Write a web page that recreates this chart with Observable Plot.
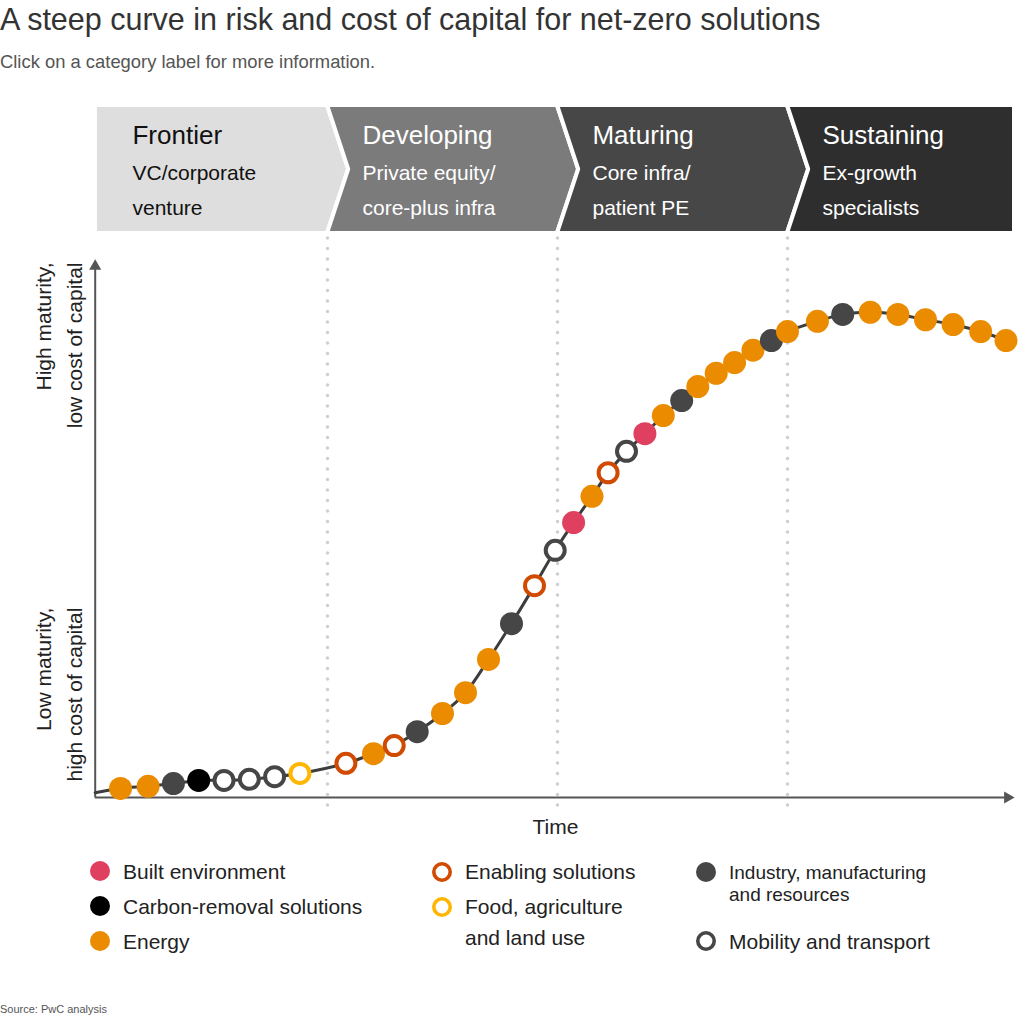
<!DOCTYPE html>
<html><head><meta charset="utf-8">
<script src="https://cdn.jsdelivr.net/npm/d3@7"></script>
<script src="https://cdn.jsdelivr.net/npm/@observablehq/plot@0.6"></script>
<style>
body{margin:0;background:#fff;font-family:"Liberation Sans",Arial,Helvetica,sans-serif;}
#page{position:relative;width:1020px;height:1017px;overflow:hidden;}
.abs{position:absolute;white-space:nowrap;}
svg{font-family:"Liberation Sans",Arial,Helvetica,sans-serif;}
</style></head><body><div id="page">
<div class="abs" style="left:0;top:4px;font-size:30.5px;line-height:30.5px;color:#333">A steep curve in risk and cost of capital for net-zero solutions</div>
<div class="abs" style="left:0;top:52.5px;font-size:18.4px;line-height:18.4px;color:#555">Click on a category label for more information.</div>
<div class="abs" id="header" style="left:0;top:100px"></div>
<div class="abs" id="chart" style="left:0;top:232px"></div>
<div id="legend"></div>
<div class="abs" style="left:0;top:1004px;font-size:11px;line-height:11px;color:#555">Source: PwC analysis</div>
</div>
<script>
// ---- data ----
const stages = ["Frontier", "Developing", "Maturing", "Sustaining"];
const stageInvestors = ["VC/corporate\nventure", "Private equity/\ncore-plus infra", "Core infra/\npatient PE", "Ex-growth\nspecialists"];
const stageColors = ["#dedede", "#7b7b7b", "#474747", "#2e2e2e"];
const stageTextColors = ["#111111", "#ffffff", "#ffffff", "#ffffff"];

const categoryKeys = ["built", "carbon", "energy", "enabling", "food", "industry", "mobility"];
const categoryLabels = ["Built environment", "Carbon-removal solutions", "Energy", "Enabling solutions", "Food, agriculture\nand land use", "Industry, manufacturing\nand resources", "Mobility and transport"];
const categoryColors = ["#e0405f", "#000000", "#eb8c00", "#d04a02", "#ffb600", "#464646", "#464646"];
const categoryHollow = [false, false, false, true, true, false, true];

const pointTime = [0.10, 0.22, 0.33, 0.44, 0.55, 0.66, 0.77, 0.88, 1.08, 1.20, 1.29, 1.39, 1.50, 1.60, 1.70, 1.80, 1.90, 1.99, 2.07, 2.15, 2.22, 2.30, 2.38, 2.46, 2.54, 2.61, 2.69, 2.77, 2.85, 2.93, 3.00, 3.13, 3.24, 3.36, 3.48, 3.60, 3.72, 3.84, 3.95];
const pointMaturity = [1.7, 2.1, 2.6, 3.2, 3.2, 3.4, 3.9, 4.5, 6.4, 8.2, 9.7, 12.3, 15.7, 19.6, 25.8, 32.5, 39.6, 46.2, 51.4, 56.3, 60.7, 64.7, 68.0, 71.4, 74.2, 76.8, 79.3, 81.3, 83.6, 85.4, 87.1, 89.0, 90.3, 90.7, 90.3, 89.3, 88.4, 87.1, 85.4];
const pointCategory = ["energy", "energy", "industry", "carbon", "mobility", "mobility", "mobility", "food", "enabling", "energy", "enabling", "industry", "energy", "energy", "energy", "industry", "enabling", "mobility", "built", "energy", "enabling", "mobility", "built", "energy", "industry", "energy", "energy", "energy", "energy", "industry", "energy", "energy", "industry", "energy", "energy", "energy", "energy", "energy", "energy"];
const curveOrigin = {time: -0.01, maturity: 0.9};

const timeDomain = [0, 4];
const maturityDomain = [0, 100];

// ---- derived tables ----
const points = pointTime.map((t, i) => {
  const k = categoryKeys.indexOf(pointCategory[i]);
  return {time: t, maturity: pointMaturity[i], color: categoryColors[k], hollow: categoryHollow[k]};
});
const linePts = [curveOrigin, ...points];

const depth = 0.092;
const chevron = stages.flatMap((s, i) => [0, 0.5, 1].map(v => {
  const bump = depth * (1 - Math.abs(2 * v - 1));
  return {stage: s, v, x1: i === 0 ? -0.009 : i + bump, x2: i === stages.length - 1 ? 3.987 : i + 1 + bump, fill: stageColors[i]};
}));
const stageRows = stages.map((s, i) => ({name: s, inv: stageInvestors[i], x: i + 0.152, fill: stageTextColors[i]}));

// ---- header ----
const header = Plot.plot({
  width: 1020, height: 135, margin: 0,
  x: {domain: timeDomain, range: [97, 1017], axis: null},
  y: {domain: [0, 1], range: [133, 5], axis: null},
  marks: [
    Plot.areaX(chevron, {y: "v", x1: "x1", x2: "x2", z: "stage", fill: "fill", stroke: "#fff", strokeWidth: 4, curve: "linear"}),
    Plot.text(stageRows, {x: "x", y: 0.703, text: "name", fill: "fill", textAnchor: "start", lineAnchor: "bottom", fontSize: 26}),
    Plot.text(stageRows, {x: "x", y: 0.141, text: "inv", fill: "fill", textAnchor: "start", lineAnchor: "bottom", fontSize: 21, lineHeight: 1.667})
  ]
});
document.getElementById("header").appendChild(header);

// ---- main chart ----
const chart = Plot.plot({
  width: 1020, height: 620, margin: 0,
  x: {domain: timeDomain, range: [97, 1017], axis: null},
  y: {domain: maturityDomain, range: [565, 30], axis: null},
  marks: [
    Plot.ruleX([1, 2, 3], {y1: -1.5, y2: 104.7, stroke: "#cfcfcf", strokeWidth: 3.5, strokeDasharray: "0,10.5", strokeLinecap: "round"}),
    Plot.ruleY([0], {x1: -0.01, x2: 3.96, stroke: "#555", strokeWidth: 2}),
    Plot.ruleX([-0.01], {y1: 0, y2: 99, stroke: "#555", strokeWidth: 2}),
    Plot.dot([0], {x: 3.957, y: 0, symbol: "triangle", r: 4.5, rotate: 90, fill: "#555", stroke: "none"}),
    Plot.dot([0], {x: -0.01, y: 99.3, symbol: "triangle", r: 4.5, fill: "#555", stroke: "none"}),
    Plot.line(linePts, {x: "time", y: "maturity", stroke: "#3d3d3d", strokeWidth: 3, curve: "catmull-rom"}),
    Plot.dot(points.filter(d => !d.hollow), {x: "time", y: "maturity", r: 11.5, fill: "color", stroke: "none"}),
    Plot.dot(points.filter(d => d.hollow), {x: "time", y: "maturity", r: 9.5, fill: "#fff", stroke: "color", strokeWidth: 4}),
    Plot.text(["Time"], {x: 1.991, y: -5.6, text: d => d, fontSize: 21, lineAnchor: "middle", fill: "#222"}),
    Plot.text(["High maturity,\nlow cost of capital"], {x: -0.296, y: 100, text: d => d, rotate: -90, textAnchor: "end", lineAnchor: "top", lineHeight: 1.476, fontSize: 21, fill: "#222"}),
    Plot.text(["Low maturity,\nhigh cost of capital"], {x: -0.296, y: 35.5, text: d => d, rotate: -90, textAnchor: "end", lineAnchor: "top", lineHeight: 1.476, fontSize: 21, fill: "#222"})
  ]
});
document.getElementById("chart").appendChild(chart);

// ---- legend ----
const legendLayout = [
  {cx: 100, cy: 871, tx: 123, base: [879], fs: 21},
  {cx: 100, cy: 906, tx: 123, base: [914], fs: 21},
  {cx: 100, cy: 941, tx: 123, base: [949], fs: 21},
  {cx: 442, cy: 872, tx: 465, base: [879], fs: 21},
  {cx: 442, cy: 907, tx: 465, base: [914, 945], fs: 21},
  {cx: 706, cy: 872, tx: 729, base: [879, 901], fs: 19},
  {cx: 706, cy: 941, tx: 729, base: [949], fs: 21}
];
const legend = document.getElementById("legend");
categoryKeys.forEach((k, i) => {
  const L = legendLayout[i];
  const col = categoryColors[i];
  const sym = document.createElement("div");
  sym.className = "abs";
  sym.style.left = (L.cx - 12) + "px";
  sym.style.top = (L.cy - 12) + "px";
  sym.innerHTML = categoryHollow[i]
    ? `<svg width="24" height="24"><circle cx="12" cy="12" r="8.2" fill="#fff" stroke="${col}" stroke-width="3.6"/></svg>`
    : `<svg width="24" height="24"><circle cx="12" cy="12" r="10" fill="${col}"/></svg>`;
  legend.appendChild(sym);
  categoryLabels[i].split("\n").forEach((line, j) => {
    const t = document.createElement("div");
    t.className = "abs";
    t.style.left = L.tx + "px";
    t.style.top = (L.base[j] - 0.8465 * L.fs) + "px";
    t.style.fontSize = L.fs + "px";
    t.style.lineHeight = L.fs + "px";
    t.style.color = "#222";
    t.textContent = line;
    legend.appendChild(t);
  });
});
</script>
</body></html>
